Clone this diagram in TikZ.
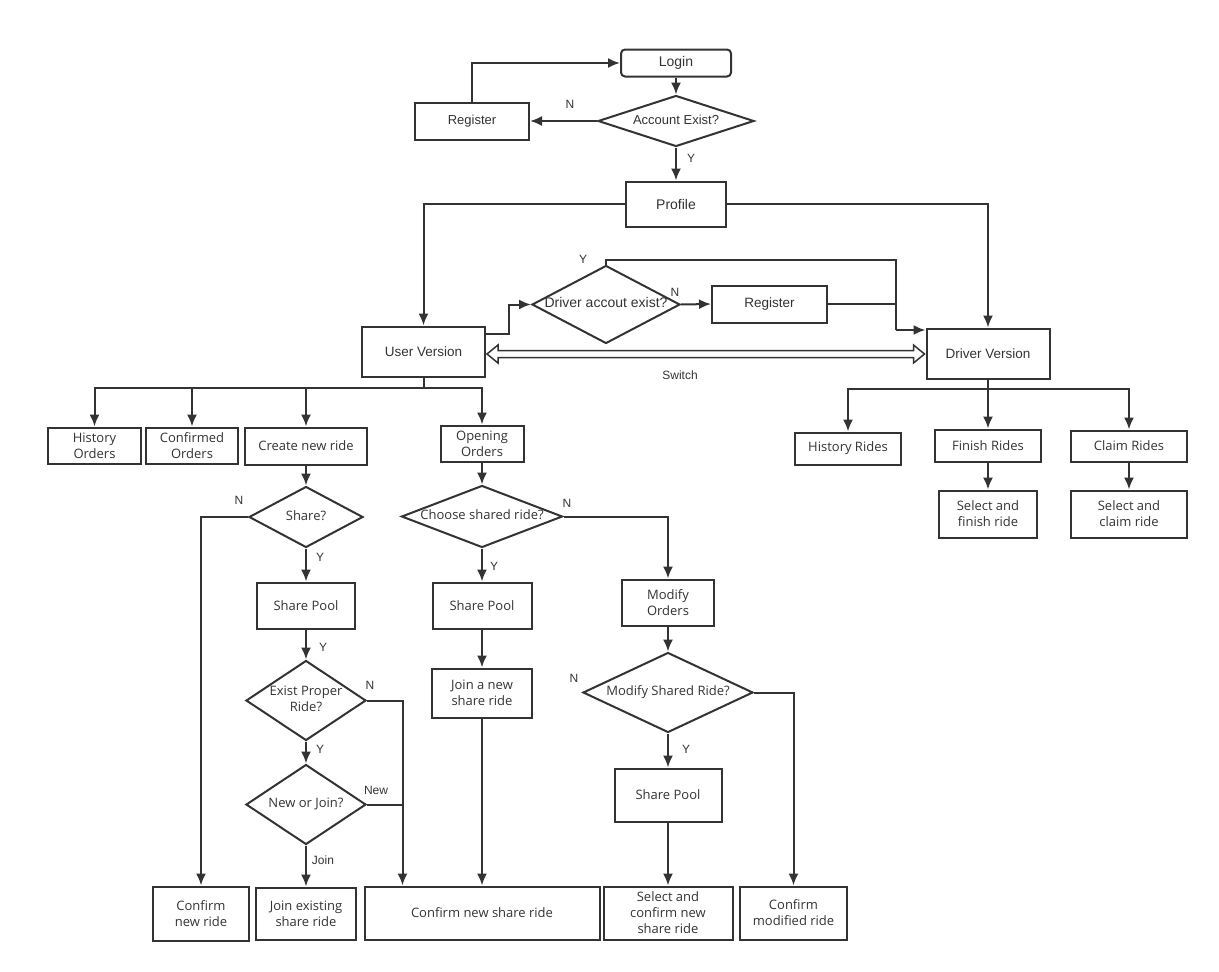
\documentclass[tikz,border=0pt]{standalone}
\usepackage{fontspec}
\setmainfont{Open Sans}
\newfontfamily\arialfam{Liberation Sans}
\usetikzlibrary{shapes.geometric,arrows.meta,calc}
\definecolor{ink}{HTML}{333333}
\newcommand{\yhfont}{\fontsize{13}{16}\selectfont}
\newcommand{\arfont}{\arialfam\fontsize{13.5}{16}\selectfont}
\newcommand{\lblfont}{\arialfam\fontsize{12}{14}\selectfont}
\newcommand{\dtext}[1]{\makebox[0pt]{\begin{tabular}{@{}c@{}}#1\end{tabular}}}

\begin{document}
\begin{tikzpicture}[x=1pt,y=-1pt,
  line/.style={draw=ink,line width=2pt},
  arr/.style={line,-{Latex[length=12pt,width=10pt]}},
  hollow/.style={draw=ink,line width=1.5pt,line join=miter,fill=white},
  box/.style={draw=ink,text=ink,line width=2pt,align=center,inner sep=1pt,font=\yhfont},
  abox/.style={box,font=\arfont},
  dia/.style={box,shape=diamond,inner sep=0pt,aspect=1},
  adia/.style={dia,font=\arfont},
  lbl/.style={text=ink,font=\lblfont,inner sep=0pt}]
\useasboundingbox (0,0) rectangle (1219,972);

% login part
\node[abox,rounded corners=4pt,minimum width=110pt,minimum height=27pt,font=\arialfam\fontsize{14}{16}\selectfont] (login) at (676,63) {Login};
\node[adia,minimum width=156pt,minimum height=51pt,font=\arialfam\fontsize{13}{16}\selectfont] (acc) at (676,121) {\dtext{Account Exist?}};
\node[abox,minimum width=114pt,minimum height=37pt,font=\arialfam\fontsize{13}{16}\selectfont] (reg) at (472,121) {Register};
\node[abox,minimum width=100pt,minimum height=45pt,font=\arialfam\fontsize{14}{16}\selectfont] (profile) at (676,204) {Profile};
\node[abox,minimum width=123pt,minimum height=50pt] (user) at (423.5,351.5) {User Version};
\node[abox,minimum width=123pt,minimum height=50pt] (driver) at (988,353.5) {Driver Version};
\node[adia,minimum width=148pt,minimum height=78pt,font=\arialfam\fontsize{14}{16}\selectfont] (dacc) at (606,304.5) {\dtext{Driver accout exist?}};
\node[abox,minimum width=115pt,minimum height=37pt] (dreg) at (769.5,304) {Register};

% user version
\node[box,minimum width=93pt,minimum height=36pt] (horders) at (94.5,445.5) {History\\Orders};
\node[box,minimum width=92pt,minimum height=36pt] (corders) at (192,445.5) {Confirmed\\Orders};
\node[box,minimum width=122pt,minimum height=37pt] (newride) at (306,446) {Create new ride};
\node[box,minimum width=83pt,minimum height=36pt] (oorders) at (482,443.5) {Opening\\Orders};
\node[dia,minimum width=114pt,minimum height=61pt] (share) at (306,517) {\dtext{Share?}};
\node[box,minimum width=98pt,minimum height=46pt] (poola) at (306,605.5) {Share Pool};
\node[dia,minimum width=120pt,minimum height=80pt] (exist) at (306,700.5) {\dtext{Exist Proper\\Ride?}};
\node[dia,minimum width=120pt,minimum height=80pt] (nj) at (306,804.5) {\dtext{New or Join?}};
\node[box,minimum width=96pt,minimum height=54pt] (cnew) at (201,913.5) {Confirm\\new ride};
\node[box,minimum width=100pt,minimum height=52pt] (joinex) at (306,913.5) {Join existing\\share ride};
\node[box,minimum width=235pt,minimum height=53pt] (cshare) at (482,913) {Confirm new share ride};
\node[dia,minimum width=161pt,minimum height=62pt] (choose) at (482,516.5) {\dtext{Choose shared ride?}};
\node[box,minimum width=99pt,minimum height=46pt] (poolb) at (482,605.5) {Share Pool};
\node[box,minimum width=100pt,minimum height=49pt] (joinnew) at (482,693) {Join a new\\share ride};
\node[box,minimum width=92pt,minimum height=46pt] (modify) at (668,602.5) {Modify\\Orders};
\node[dia,minimum width=170pt,minimum height=80pt] (modq) at (668,692.5) {\dtext{Modify Shared Ride?}};
\node[box,minimum width=107pt,minimum height=53pt] (poolc) at (668,795) {Share Pool};
\node[box,minimum width=129pt,minimum height=53pt] (selconf) at (668,913) {Select and\\confirm new\\share ride};
\node[box,minimum width=107pt,minimum height=53pt] (cmod) at (793.5,913) {Confirm\\modified ride};

% driver version
\node[box,minimum width=106pt,minimum height=32pt] (hrides) at (848,448.5) {History Rides};
\node[box,minimum width=106pt,minimum height=32pt] (frides) at (988,445.5) {Finish Rides};
\node[box,minimum width=116pt,minimum height=31pt] (crides) at (1129,446) {Claim Rides};
\node[box,minimum width=98pt,minimum height=47pt] (selfin) at (988,514) {Select and\\finish ride};
\node[box,minimum width=116pt,minimum height=47pt] (selclaim) at (1129,514) {Select and\\claim ride};

% connectors
\draw[arr] (login.south) -- (acc.north);
\draw[arr] (acc.west) -- (reg.east);
\draw[arr] (reg.north) |- (login.west);
\draw[arr] (acc.south) -- (profile.north);
\draw[arr] (profile.west) -| (user.north);
\draw[arr] (profile.east) -| (driver.north);
\draw[arr] ([yshift=18pt]user.east) -- ++(23,0) |- (dacc.west);
\draw[arr] (dacc.east) -- (dreg.west);
\coordinate (dj) at (896,330);
\draw[line] (dacc.north) -- ++(0,-5) -| (dj);
\draw[line] (dreg.east) -| (dj);
\draw[arr] (dj) -- (dj -| driver.west);

% switch: hollow double arrow
\coordinate (sa) at ([yshift=-2.5pt,xshift=1pt]user.east);
\coordinate (sb) at ([xshift=-1pt]sa -| driver.west);
\draw[hollow] (sa) -- ++(11,9) -- ++(0,-5.5) -- ($(sb)+(-11,3.5)$) -- ++(0,5.5) -- (sb)
  -- ++(-11,-9) -- ++(0,5.5) -- ($(sa)+(11,-3.5)$) -- ++(0,-5.5) -- cycle;

\coordinate (ub) at (423.5,388);
\draw[line] (user.south) -- (ub);
\foreach \n in {horders,corders,newride,oorders}
  \draw[arr] (ub) -| (\n.north);
\coordinate (db) at (988,389);
\draw[line] (driver.south) -- (db);
\foreach \n in {hrides,frides,crides}
  \draw[arr] (db) -| (\n.north);
\draw[arr] (frides.south) -- (selfin.north);
\draw[arr] (crides.south) -- (selclaim.north);

\draw[arr] (newride.south) -- (share.north);
\draw[arr] (share.west) -| (cnew.north);
\draw[arr] (share.south) -- (poola.north);
\draw[arr] (poola.south) -- (exist.north);
\draw[arr] (exist.south) -- (nj.north);
\draw[arr] (nj.south) -- (joinex.north);
\coordinate (csin) at ([xshift=39pt]cshare.north west);
\draw[arr] (exist.east) -| (csin);
\draw[line] (nj.east) -- (nj.east -| csin);

\draw[arr] (oorders.south) -- (choose.north);
\draw[arr] (choose.south) -- (poolb.north);
\draw[arr] (poolb.south) -- (joinnew.north);
\draw[arr] (joinnew.south) -- (cshare.north);
\draw[arr] (choose.east) -| (modify.north);
\draw[arr] (modify.south) -- (modq.north);
\draw[arr] (modq.south) -- (poolc.north);
\draw[arr] (poolc.south) -- (selconf.north);
\draw[arr] (modq.east) -| (cmod.north);

% labels
\node[lbl] (sw) at (680,375) {Switch};
\node[lbl] (l1) at (570,104) {N};
\node[lbl] (l2) at (691,158) {Y};
\node[lbl] (l3) at (583,259) {Y};
\node[lbl] (l4) at (675,292) {N};
\node[lbl] (l5) at (239,500) {N};
\node[lbl] (l6) at (320,557) {Y};
\node[lbl] (l7) at (323,647) {Y};
\node[lbl] (l8) at (370,685) {N};
\node[lbl] (l9) at (320,749) {Y};
\node[lbl] (l10) at (376,790) {New};
\node[lbl] (l11) at (323,860) {Join};
\node[lbl] (l12) at (567,503) {N};
\node[lbl] (l13) at (494,566) {Y};
\node[lbl] (l14) at (574,678) {N};
\node[lbl] (l15) at (686,749) {Y};
\end{tikzpicture}
\end{document}
